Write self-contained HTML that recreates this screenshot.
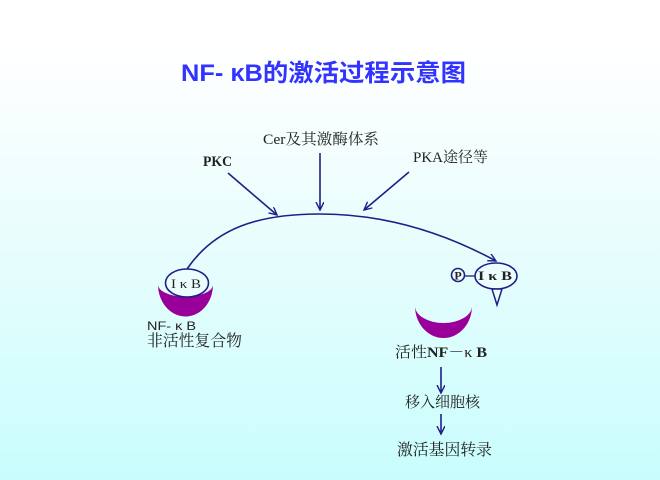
<!DOCTYPE html>
<html><head><meta charset="utf-8"><style>
html,body{margin:0;padding:0;}
body{width:660px;height:480px;overflow:hidden;}
svg{display:block;}
</style></head><body>
<svg width="660" height="480" viewBox="0 0 660 480" xmlns="http://www.w3.org/2000/svg">
<defs>
<linearGradient id="bg" x1="0" y1="0" x2="0" y2="1">
<stop offset="0" stop-color="#ffffff"/>
<stop offset="0.1" stop-color="#ffffff"/>
<stop offset="0.5" stop-color="#e9fdfd"/>
<stop offset="1" stop-color="#c9fdfd"/>
</linearGradient>
<marker id="ah" markerWidth="10" markerHeight="10" refX="8" refY="4" orient="auto" markerUnits="userSpaceOnUse">
<path d="M0,0 L8,4 L0,8" fill="none" stroke="#1f1f88" stroke-width="1.4"/>
</marker>
</defs>
<rect width="660" height="480" fill="url(#bg)"/>

<!-- title -->
<text x="181" y="81" font-family="Liberation Sans, Noto Sans CJK SC, sans-serif" font-weight="bold" font-size="24" fill="#3333ff" textLength="285" lengthAdjust="spacingAndGlyphs">NF- κB的激活过程示意图</text>

<!-- top labels -->
<g font-family="Liberation Serif, Noto Serif CJK SC, serif" font-size="15" fill="#222">
<text x="263" y="144" textLength="116" lengthAdjust="spacingAndGlyphs">Cer及其激酶体系</text>
<text x="203" y="166" textLength="29" lengthAdjust="spacingAndGlyphs" font-weight="bold">PKC</text>
<text x="413" y="162" textLength="75" lengthAdjust="spacingAndGlyphs">PKA途径等</text>
</g>

<!-- arrows -->
<g stroke="#1f1f88" stroke-width="1.6" fill="none">
<line x1="228" y1="173" x2="277" y2="215" marker-end="url(#ah)"/>
<line x1="320" y1="153" x2="320" y2="210" marker-end="url(#ah)"/>
<line x1="409" y1="172" x2="364" y2="210" marker-end="url(#ah)"/>
<path d="M187,269 C215,228 258,214 320,214 C390,214 450,236 496,261" marker-end="url(#ah)"/>
<line x1="441" y1="367" x2="441" y2="393" marker-end="url(#ah)"/>
<line x1="441" y1="414" x2="441" y2="434" marker-end="url(#ah)"/>
</g>

<!-- left complex -->
<path d="M158,284 A27.5,32 0 0 0 213,285 A27,12 0 0 1 158,284 Z" fill="#990099"/>
<ellipse cx="187" cy="283" rx="21.5" ry="14" fill="#ecfdfd" stroke="#1f1f88" stroke-width="1.6"/>
<text x="171" y="288" font-family="Liberation Serif, serif" font-size="13" fill="#222" textLength="30" lengthAdjust="spacingAndGlyphs">I κ B</text>

<!-- right: phosphorylated IkB -->
<ellipse cx="496" cy="276" rx="21" ry="13" fill="#ecfdfd" stroke="#1f1f88" stroke-width="1.6"/>
<text x="478" y="280" font-family="Liberation Serif, serif" font-size="13" font-weight="bold" fill="#222" textLength="34" lengthAdjust="spacingAndGlyphs">I κ B</text>
<path d="M492,289 L502,289 L497,305 Z" fill="#ecfdfd" stroke="#1f1f88" stroke-width="1.5"/>
<line x1="465" y1="276" x2="475" y2="276" stroke="#1f1f88" stroke-width="1.3"/>
<circle cx="458" cy="275" r="6.5" fill="#ecfdfd" stroke="#1f1f88" stroke-width="1.6"/>
<text x="458" y="279.5" text-anchor="middle" font-family="Liberation Serif, serif" font-size="12" font-weight="bold" fill="#222">P</text>

<!-- right crescent -->
<path d="M415,306 A28.5,32 0 0 0 472,306 A28.5,17 0 0 1 415,306 Z" fill="#990099"/>

<!-- left labels -->
<text x="147" y="330" font-family="Liberation Sans, sans-serif" font-size="12" fill="#222" textLength="49" lengthAdjust="spacingAndGlyphs">NF- κ B</text>
<text x="147" y="346" font-family="Liberation Serif, Noto Serif CJK SC, serif" font-size="16" fill="#222" textLength="95" lengthAdjust="spacingAndGlyphs">非活性复合物</text>

<!-- right labels -->
<g font-family="Liberation Serif, Noto Serif CJK SC, serif" fill="#222">
<text x="395" y="357" font-size="15" textLength="92" lengthAdjust="spacingAndGlyphs">活性<tspan font-weight="bold">NF</tspan>－κ <tspan font-weight="bold">B</tspan></text>
<text x="405" y="407" font-size="15" textLength="75" lengthAdjust="spacingAndGlyphs">移入细胞核</text>
<text x="397" y="455" font-size="16" textLength="95" lengthAdjust="spacingAndGlyphs">激活基因转录</text>
</g>
</svg>
</body></html>
